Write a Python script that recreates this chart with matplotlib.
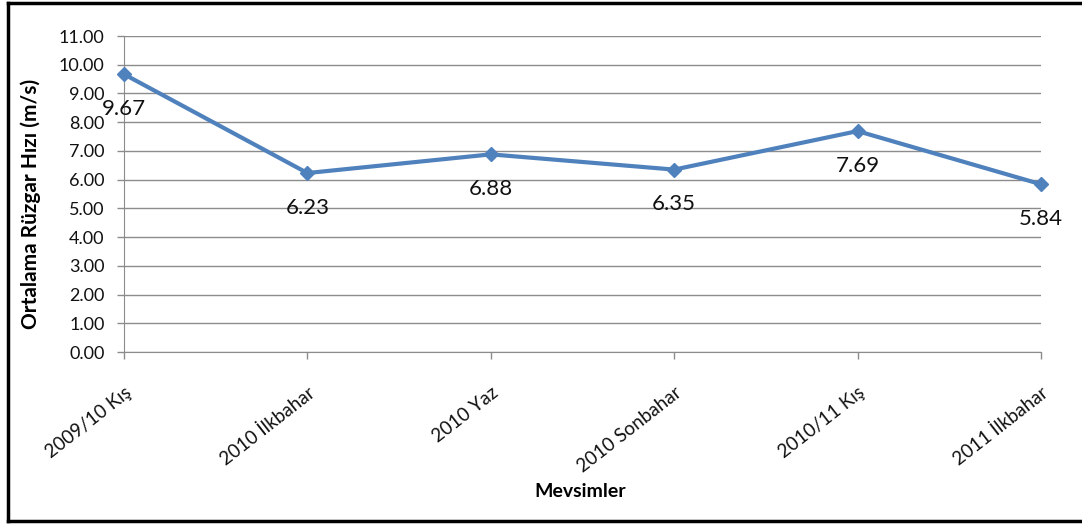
import matplotlib
matplotlib.use('Agg')
import matplotlib.pyplot as plt
from matplotlib.lines import Line2D

# seasonal mean wind speed
seasons = ['2009/10 Kış', '2010 İlkbahar', '2010 Yaz', '2010 Sonbahar', '2010/11 Kış', '2011 İlkbahar']
wind_speed = [9.67, 6.23, 6.88, 6.35, 7.69, 5.84]
y_ticks = [0, 1, 2, 3, 4, 5, 6, 7, 8, 9, 10, 11]

plt.rcParams['font.family'] = ['Lato', 'DejaVu Sans']

fig = plt.figure(figsize=(10.82, 5.25), dpi=100)
ax = fig.add_axes([0.1146, 0.3295, 0.8475, 0.6019])

x = list(range(len(seasons)))
ax.plot(x, wind_speed, color='#4F81BD', linewidth=3, marker='D', markersize=7.5,
        markerfacecolor='#4F81BD', markeredgecolor='#4F81BD', zorder=3, clip_on=False)

for xi, v in zip(x, wind_speed):
    ax.annotate('%.2f' % v, (xi, v), xytext=(0, -25), textcoords='offset points',
                ha='center', va='center', fontsize=16, color='#111111')

ax.set_xlim(0, len(seasons) - 1)
ax.set_ylim(0, 11)
ax.set_yticks(y_ticks)
ax.set_yticklabels(['%.2f' % t for t in y_ticks], fontsize=13)
ax.set_xticks(x)
ax.set_xticklabels(seasons, fontsize=13.5, rotation=38, ha='right', rotation_mode='anchor')
ax.yaxis.grid(True, color='#8c8c8c', linewidth=1)
ax.set_axisbelow(True)

for side in ['top', 'right']:
    ax.spines[side].set_visible(False)
for side in ['left', 'bottom']:
    ax.spines[side].set_color('#8c8c8c')
ax.tick_params(axis='both', colors='#8c8c8c', length=5, width=1, labelcolor='#111111')
ax.tick_params(axis='y', pad=9)
ax.tick_params(axis='x', pad=18)

ax.set_ylabel('Ortalama Rüzgar Hızı (m/s)', fontsize=15, fontweight='bold', labelpad=8)
ax.yaxis.set_label_coords(-0.09, 0.47)
fig.text(0.536, 0.063, 'Mevsimler', fontsize=14, fontweight='bold', ha='center', va='center')

# frame on left, top and bottom
lw = 2.5
fig.add_artist(Line2D([0.0074, 0.0074], [0.008, 0.995], transform=fig.transFigure, color='black', linewidth=lw))
fig.add_artist(Line2D([0.0074, 1.0], [0.995, 0.995], transform=fig.transFigure, color='black', linewidth=lw))
fig.add_artist(Line2D([0.0074, 1.0], [0.008, 0.008], transform=fig.transFigure, color='black', linewidth=lw))

fig.savefig('out.png', dpi=100)
